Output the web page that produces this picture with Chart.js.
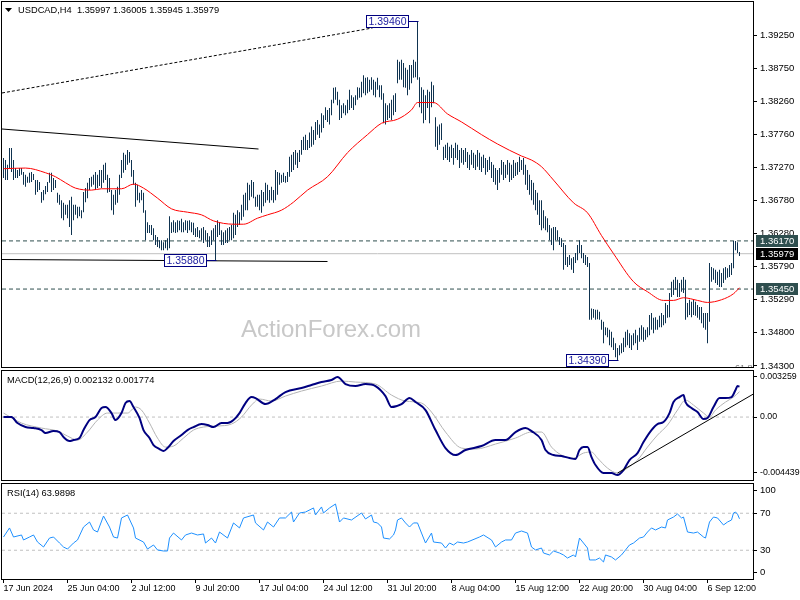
<!DOCTYPE html>
<html><head><meta charset="utf-8"><title>USDCAD H4</title>
<script src="https://cdn.jsdelivr.net/npm/chart.js@4.4.1/dist/chart.umd.min.js"></script>
<style>
html,body{margin:0;padding:0;background:#fff;overflow:hidden}
#wrap{position:relative;width:800px;height:600px;background:#fff}
#wrap canvas{position:absolute;left:0}
</style></head><body>
<div id="wrap">
<canvas id="cMain" width="800" height="369" style="top:0"></canvas>
<canvas id="cMacd" width="800" height="113" style="top:369px"></canvas>
<canvas id="cRsi" width="800" height="118" style="top:482px"></canvas>
</div>
<script>
// ---------- DATA ----------
const symbolTitle = 'USDCAD,H4  1.35997 1.36005 1.35945 1.35979';
const macdTitle = 'MACD(12,26,9) 0.002132 0.001774';
const rsiTitle = 'RSI(14) 63.9898';
const xTickIdx = [0,32,64,96,128,160,192,224,256,288,320,352];
const xTickLabels = ['17 Jun 2024','25 Jun 04:00','2 Jul 12:00','9 Jul 20:00','17 Jul 04:00','24 Jul 12:00','31 Jul 20:00','8 Aug 04:00','15 Aug 12:00','22 Aug 20:00','30 Aug 04:00','6 Sep 12:00'];
const priceTicks = [1.3925,1.3875,1.3826,1.3776,1.3727,1.3678,1.3628,1.3579,1.3529,1.3480,1.3430];
const macdTicks = [0.003259,0,-0.004439];
const macdTickLabels = ['0.003259','0.00','-0.004439'];
const rsiTicks = [100,70,30,0];
const rsiLevels = [70,30];

const highs = [
1.3741,1.3738,1.3731,1.3756,1.3756,1.3738,1.3726,1.3723,1.3726,1.3726,
1.3720,1.3716,1.3713,1.3719,1.3720,1.3717,1.3708,1.3708,1.3705,1.3690,
1.3693,1.3699,1.3705,1.3719,1.3719,1.3711,1.3708,1.3689,1.3686,1.3678,
1.3674,1.3671,1.3671,1.3678,1.3683,1.3671,1.3671,1.3668,1.3668,1.3663,
1.3690,1.3696,1.3704,1.3711,1.3713,1.3716,1.3720,1.3716,1.3723,1.3723,
1.3731,1.3734,1.3716,1.3711,1.3693,1.3686,1.3693,1.3698,1.3716,1.3738,
1.3749,1.3746,1.3753,1.3750,1.3738,1.3723,1.3704,1.3701,1.3689,1.3693,
1.3689,1.3663,1.3645,1.3641,1.3641,1.3636,1.3626,1.3623,1.3618,1.3618,
1.3615,1.3618,1.3621,1.3654,1.3645,1.3648,1.3645,1.3648,1.3647,1.3650,
1.3645,1.3648,1.3647,1.3648,1.3645,1.3644,1.3636,1.3638,1.3633,1.3636,
1.3638,1.3633,1.3629,1.3624,1.3633,1.3636,1.3641,1.3648,1.3645,1.3633,
1.3630,1.3633,1.3636,1.3638,1.3641,1.3659,1.3656,1.3663,1.3660,1.3671,
1.3686,1.3689,1.3704,1.3701,1.3708,1.3705,1.3683,1.3686,1.3686,1.3693,
1.3690,1.3704,1.3701,1.3693,1.3698,1.3693,1.3723,1.3720,1.3719,1.3716,
1.3719,1.3714,1.3720,1.3743,1.3746,1.3750,1.3753,1.3749,1.3753,1.3768,
1.3773,1.3776,1.3768,1.3779,1.3788,1.3783,1.3795,1.3798,1.3791,1.3808,
1.3805,1.3817,1.3813,1.3816,1.3828,1.3846,1.3847,1.3840,1.3828,1.3820,
1.3823,1.3820,1.3828,1.3843,1.3835,1.3832,1.3835,1.3847,1.3846,1.3855,
1.3865,1.3861,1.3862,1.3858,1.3862,1.3858,1.3855,1.3861,1.3850,1.3850,
1.3838,1.3823,1.3820,1.3823,1.3828,1.3835,1.3838,1.3888,1.3885,1.3888,
1.3883,1.3876,1.3873,1.3880,1.3880,1.3888,1.3885,1.3946,1.3862,1.3847,
1.3843,1.3835,1.3843,1.3840,1.3855,1.3850,1.3802,1.3788,1.3791,1.3793,
1.3758,1.3761,1.3764,1.3758,1.3761,1.3756,1.3764,1.3761,1.3753,1.3756,
1.3753,1.3756,1.3750,1.3746,1.3753,1.3749,1.3746,1.3753,1.3749,1.3743,
1.3746,1.3741,1.3738,1.3743,1.3735,1.3731,1.3726,1.3723,1.3726,1.3738,
1.3735,1.3731,1.3738,1.3734,1.3731,1.3738,1.3734,1.3735,1.3743,1.3738,
1.3741,1.3731,1.3723,1.3716,1.3708,1.3704,1.3693,1.3689,1.3678,1.3678,
1.3663,1.3654,1.3651,1.3641,1.3636,1.3638,1.3638,1.3633,1.3623,1.3621,
1.3614,1.3611,1.3593,1.3596,1.3591,1.3593,1.3599,1.3611,1.3618,1.3611,
1.3599,1.3596,1.3593,1.3584,1.3516,1.3515,1.3514,1.3514,1.3511,1.3499,
1.3496,1.3488,1.3487,1.3484,1.3481,1.3472,1.3464,1.3457,1.3461,1.3464,
1.3472,1.3481,1.3484,1.3479,1.3476,1.3479,1.3484,1.3476,1.3487,1.3491,
1.3488,1.3484,1.3488,1.3506,1.3509,1.3502,1.3503,1.3499,1.3505,1.3509,
1.3506,1.3524,1.3521,1.3539,1.3556,1.3559,1.3563,1.3559,1.3554,1.3559,
1.3563,1.3559,1.3524,1.3529,1.3526,1.3529,1.3526,1.3521,1.3518,1.3518,
1.3509,1.3509,1.3509,1.3584,1.3578,1.3576,1.3574,1.3571,1.3574,1.3569,
1.3576,1.3578,1.3576,1.3581,1.3584,1.3617,1.3617,1.3615,1.36005];

const lows = [
1.3711,1.3708,1.3708,1.3726,1.3720,1.3708,1.3711,1.3711,1.3714,1.3716,
1.3701,1.3698,1.3704,1.3704,1.3705,1.3708,1.3686,1.3690,1.3693,1.3674,
1.3678,1.3687,1.3690,1.3704,1.3690,1.3693,1.3696,1.3674,1.3671,1.3651,
1.3648,1.3656,1.3651,1.3638,1.3626,1.3648,1.3656,1.3651,1.3654,1.3651,
1.3660,1.3675,1.3681,1.3693,1.3698,1.3701,1.3693,1.3696,1.3699,1.3696,
1.3704,1.3708,1.3689,1.3690,1.3663,1.3656,1.3671,1.3674,1.3686,1.3711,
1.3719,1.3723,1.3731,1.3734,1.3713,1.3701,1.3668,1.3678,1.3674,1.3678,
1.3659,1.3618,1.3629,1.3629,1.3626,1.3618,1.3611,1.3608,1.3606,1.3603,
1.3603,1.3606,1.3603,1.3606,1.3629,1.3630,1.3629,1.3630,1.3633,1.3630,
1.3630,1.3633,1.3629,1.3633,1.3630,1.3626,1.3623,1.3623,1.3621,1.3618,
1.3614,1.3618,1.3608,1.3608,1.3611,1.3618,1.3588,1.3623,1.3626,1.3611,
1.3611,1.3614,1.3614,1.3618,1.3618,1.3621,1.3626,1.3638,1.3641,1.3648,
1.3653,1.3663,1.3663,1.3678,1.3683,1.3681,1.3668,1.3668,1.3663,1.3659,
1.3669,1.3674,1.3678,1.3674,1.3678,1.3674,1.3678,1.3686,1.3701,1.3704,
1.3705,1.3704,1.3705,1.3713,1.3720,1.3723,1.3731,1.3726,1.3735,1.3746,
1.3753,1.3753,1.3753,1.3756,1.3758,1.3761,1.3768,1.3776,1.3771,1.3779,
1.3786,1.3798,1.3795,1.3791,1.3805,1.3823,1.3828,1.3820,1.3798,1.3801,
1.3808,1.3805,1.3808,1.3813,1.3816,1.3813,1.3820,1.3828,1.3831,1.3832,
1.3838,1.3835,1.3838,1.3840,1.3843,1.3835,1.3832,1.3843,1.3832,1.3828,
1.3793,1.3791,1.3798,1.3801,1.3798,1.3805,1.3810,1.3853,1.3858,1.3858,
1.3847,1.3846,1.3835,1.3843,1.3853,1.3861,1.3862,1.3858,1.3817,1.3808,
1.3793,1.3798,1.3816,1.3793,1.3817,1.3823,1.3758,1.3753,1.3761,1.3768,
1.3738,1.3741,1.3738,1.3735,1.3741,1.3731,1.3741,1.3738,1.3726,1.3734,
1.3731,1.3735,1.3726,1.3723,1.3731,1.3726,1.3723,1.3728,1.3723,1.3720,
1.3726,1.3716,1.3720,1.3723,1.3711,1.3705,1.3701,1.3693,1.3704,1.3716,
1.3708,1.3711,1.3716,1.3705,1.3708,1.3711,1.3714,1.3716,1.3720,1.3723,
1.3716,1.3701,1.3693,1.3686,1.3678,1.3671,1.3663,1.3656,1.3641,1.3633,
1.3636,1.3633,1.3630,1.3618,1.3611,1.3603,1.3618,1.3618,1.3611,1.3608,
1.3574,1.3581,1.3578,1.3581,1.3574,1.3569,1.3584,1.3588,1.3599,1.3591,
1.3584,1.3581,1.3578,1.3499,1.3499,1.3502,1.3499,1.3500,1.3499,1.3484,
1.3464,1.3476,1.3473,1.3461,1.3458,1.3454,1.3443,1.3439,1.3446,1.3449,
1.3451,1.3458,1.3461,1.3457,1.3454,1.3461,1.3464,1.3454,1.3466,1.3469,
1.3466,1.3469,1.3473,1.3476,1.3484,1.3479,1.3484,1.3484,1.3488,1.3488,
1.3491,1.3494,1.3502,1.3503,1.3533,1.3536,1.3544,1.3533,1.3533,1.3541,
1.3539,1.3499,1.3503,1.3506,1.3503,1.3506,1.3505,1.3502,1.3499,1.3494,
1.3487,1.3484,1.3464,1.3496,1.3556,1.3559,1.3554,1.3551,1.3548,1.3548,
1.3554,1.3559,1.3562,1.3563,1.3566,1.3576,1.3603,1.3599,1.35945];

const maIdx = [0,11,21,26,31,36,44,49,59,65,70,77,84,92,99,105,115,120,127,132,139,145,152,162,172,182,189,197,204,207,212,215,222,229,239,247,259,264,269,275,285,292,299,305,315,322,330,335,340,347,352,359,365,368];
const maVal = [1.3725,1.3726,1.3719,1.3713,1.3704,1.3696,1.3693,1.3695,1.3695,1.3702,1.3696,1.3681,1.3665,1.3660,1.3656,1.3647,1.3642,1.3642,1.3651,1.3656,1.3663,1.3675,1.3693,1.3713,1.3749,1.3776,1.3793,1.3799,1.3813,1.3824,1.3824,1.3824,1.3807,1.3795,1.3776,1.3762,1.3744,1.3738,1.3728,1.3708,1.3674,1.3659,1.3625,1.3598,1.3556,1.3541,1.3528,1.3528,1.3532,1.3528,1.3525,1.3529,1.3538,1.3547];

const macdIdx = [0,4,7,11,15,19,21,25,28,30,33,35,38,40,43,46,49,51,54,56,59,61,63,65,68,70,73,75,78,80,82,85,89,92,95,99,102,105,109,112,115,118,121,124,126,131,136,141,149,154,159,164,167,171,176,181,186,191,194,199,203,206,211,216,221,226,231,239,246,251,256,261,264,269,271,275,279,283,286,288,290,292,294,296,300,304,307,310,313,317,320,324,327,330,333,335,338,340,341,344,347,350,352,355,358,361,364,366,367,368];
const macdVal = [0.0000,0.0000,-0.00042,-0.00070,-0.00077,-0.00091,-0.00112,-0.00098,-0.00105,-0.00140,-0.00168,-0.00161,-0.00147,-0.00091,-0.00021,0.0000,0.00063,0.00070,0.00028,-0.00021,0.00028,0.00098,0.00112,0.00070,-0.00006,-0.00091,-0.00147,-0.00196,-0.00224,-0.00238,-0.00217,-0.00168,-0.00126,-0.00091,-0.00070,-0.00049,-0.00056,-0.00070,-0.00042,-0.00042,-0.00021,0.00028,0.00098,0.00140,0.00133,0.00091,0.00126,0.00175,0.00203,0.00224,0.00245,0.00259,0.00280,0.00231,0.00217,0.00231,0.00217,0.00147,0.00070,0.00091,0.00133,0.00105,0.00049,-0.00091,-0.00217,-0.00266,-0.00231,-0.00203,-0.00161,-0.00161,-0.00105,-0.00077,-0.00098,-0.00161,-0.00231,-0.00266,-0.00273,-0.00287,-0.00294,-0.00231,-0.00210,-0.00210,-0.00280,-0.00336,-0.00392,-0.00392,-0.00406,-0.00371,-0.00301,-0.00252,-0.00175,-0.00091,-0.00049,-0.00035,0.00028,0.00105,0.00140,0.00154,0.00105,0.00063,0.00035,-0.00014,-0.00007,0.00070,0.00133,0.00133,0.00140,0.00189,0.00217,0.002132];

const sigIdx = [0,9,19,27,32,37,42,47,52,57,62,66,69,73,77,81,85,90,95,100,107,114,119,124,128,134,141,149,159,169,176,186,194,201,209,214,221,229,236,246,256,264,269,274,279,285,290,294,297,302,307,312,317,322,327,332,337,341,345,350,353,356,361,365,368];
const sigVal = [0.00028,-0.00042,-0.00077,-0.00098,-0.00133,-0.00161,-0.00105,-0.00021,0.00028,0.00028,0.00028,0.00070,0.00049,-0.00042,-0.00147,-0.00210,-0.00203,-0.00147,-0.00091,-0.00070,-0.00063,-0.00049,0.0000,0.00084,0.00126,0.00112,0.00147,0.00182,0.00217,0.00252,0.00245,0.00231,0.00154,0.00112,0.00098,0.00035,-0.00105,-0.00217,-0.00224,-0.00189,-0.00147,-0.00105,-0.00105,-0.00210,-0.00266,-0.00287,-0.00252,-0.00245,-0.00287,-0.00357,-0.00392,-0.00357,-0.00301,-0.00210,-0.00126,-0.00056,0.00049,0.00119,0.00084,0.00028,0.0000,0.00049,0.00105,0.00140,0.001774];

const rsiIdx = [0,3,5,9,10,13,15,17,20,23,25,28,30,32,35,37,40,43,45,47,50,53,55,57,59,62,65,66,70,72,75,77,80,82,83,85,89,91,94,97,100,101,104,106,108,112,115,118,120,125,126,130,132,135,138,141,144,145,148,151,155,156,159,160,163,166,168,170,174,179,181,184,185,187,189,190,193,195,196,197,199,201,203,205,207,209,211,214,215,219,221,223,225,227,230,232,238,240,244,246,249,251,254,256,259,262,264,266,269,270,273,275,278,280,282,285,286,288,290,292,293,296,298,300,301,304,306,309,311,313,315,318,320,322,324,326,329,331,332,335,337,339,340,342,345,347,350,351,353,355,357,360,362,364,365,366,367,368];
const rsiVal = [44.3,54.1,44.3,46.5,41.1,44.3,46.5,38.9,33.5,43.2,44.3,37.8,33.5,31.3,37.8,41.1,55.1,60.5,51.9,49.7,67.0,55.1,44.3,43.2,64.9,68.1,54.1,43.2,38.9,31.3,35.7,30.3,29.2,29.2,43.2,48.6,41.1,46.5,48.6,46.5,47.6,37.8,43.2,37.8,49.7,43.2,59.5,54.1,64.9,68.1,59.5,51.9,60.5,55.1,64.9,64.9,71.3,60.5,70.3,71.3,75.7,68.1,76.8,70.3,75.7,80.0,60.5,64.9,62.7,70.3,63.8,68.1,60.5,59.5,55.1,43.2,42.2,46.5,51.9,62.7,64.9,59.5,55.1,59.5,59.5,48.6,37.8,48.6,38.9,37.8,32.4,37.8,35.7,38.9,37.8,38.9,44.3,46.5,41.1,33.5,38.9,41.1,41.1,48.6,50.8,48.6,33.5,30.3,32.4,27.0,24.9,29.2,27.0,24.9,21.6,24.9,22.7,43.2,37.8,32.4,19.5,19.5,21.6,17.3,24.9,22.7,19.5,24.9,30.3,35.7,37.8,43.2,44.3,49.7,54.1,51.9,55.1,54.1,62.7,65.9,69.2,64.9,65.9,49.7,48.6,49.7,44.3,43.2,60.5,65.9,64.9,57.3,60.5,62.7,70.3,71.3,69.0,63.99];

// horizontal price levels and drawn lines
const dashedLevels = [1.3617, 1.3545];
const lastPrice = 1.35979;
const axisBoxPrices = [1.3617, 1.35979, 1.3545];
const annotIdx = [207, 106, 307];
const annotPrice = [1.3946, 1.3588, 1.3439];
const resistIdx = [-0.75, 127.5];
const resistVal = [1.37844, 1.37545];
const supportIdx = [-0.75, 162];
const supportVal = [1.35892, 1.35862];
const channelIdx = [-0.75, 184.5];
const channelVal = [1.38383, 1.39355];
const macdTrendIdx = [307, 376];
const macdTrendVal = [-0.00392, 0.00170];

// ---------- LAYOUT / STYLE ----------
const FONT = '"Liberation Sans", Arial, sans-serif';
const XMIN = -0.75, XMAX = 374.75;
const PRICE_MIN = 1.34284, PRICE_MAX = 1.39744;
const MACD_MIN = -0.004406, MACD_MAX = 0.003224;
const RSI_MIN = -1.08, RSI_MAX = 101.6;
Chart.defaults.font.family = FONT;
Chart.defaults.font.size = 9.5;
Chart.defaults.color = '#000';
Chart.defaults.animation = false;

const pts = (xs, ys) => xs.map((x, k) => ({x, y: ys[k]}));
const hline = (v, color, dash, order) => ({type:'line', data:[{x:XMIN,y:v},{x:XMAX,y:v}], borderColor:color, borderWidth:1, borderDash:dash, pointRadius:0, order});

const framePlugin = {
  id:'frame',
  afterDraw(chart){
    const {ctx, chartArea:a} = chart;
    ctx.save(); ctx.strokeStyle = '#000'; ctx.lineWidth = 1;
    ctx.strokeRect(a.left-0.5, a.top-0.5, a.right-a.left+1, a.bottom-a.top+1);
    ctx.restore();
  }
};

function xScale(show){
  return {
    type:'linear', min:XMIN, max:XMAX, offset:false, display:show,
    grid:{display:true, drawOnChartArea:false, drawTicks:true, tickLength:4, color:'#000'},
    border:{display:false},
    ticks:{autoSkip:false, maxRotation:0, minRotation:0, align:'start', padding:0, font:{size:9}, color:'#000',
      callback:(v,i)=> xTickLabels[i] !== undefined ? xTickLabels[i] : ''},
    afterBuildTicks:(s)=>{ s.ticks = xTickIdx.map(v=>({value:v})); },
    afterFit:(s)=>{ s.height = show ? 21 : 0; s.paddingLeft = 0; s.paddingRight = 0; s.paddingTop = 0; s.paddingBottom = 0; }
  };
}
function yScale(min, max, tickFn, labelFn, fontSize){
  return {
    type:'linear', position:'right', min, max,
    grid:{display:true, drawOnChartArea:false, drawTicks:true, tickLength:4, color:'#000'},
    border:{display:false},
    ticks:{padding:3, font:{size:fontSize}, color:'#000', callback:labelFn},
    afterBuildTicks:(s)=>{ s.ticks = tickFn(s).map(v=>({value:v})); },
    afterFit:(s)=>{ s.width = 47; s.paddingTop = 0; s.paddingBottom = 0; s.paddingLeft = 0; s.paddingRight = 0; }
  };
}
const baseOpts = (pad) => ({
  responsive:false, devicePixelRatio:1, animation:false, events:[],
  layout:{autoPadding:false, padding:pad},
  plugins:{legend:{display:false}, tooltip:{enabled:false}}
});

// ---------- MAIN CHART ----------
const mainOverlay = {
  id:'mainOverlay',
  beforeDatasetsDraw(chart){
    const {ctx} = chart;
    ctx.save();
    ctx.font = '24px ' + FONT; ctx.fillStyle = '#c8c8c8';
    ctx.textAlign = 'center'; ctx.textBaseline = 'middle';
    ctx.fillText('ActionForex.com', 331, 330);
    ctx.restore();
  },
  afterDatasetsDraw(chart){
    const {ctx, chartArea:a} = chart;
    const xs = chart.scales.x, ys = chart.scales.y;
    ctx.save();
    ctx.beginPath(); ctx.rect(a.left, a.top, a.right-a.left, a.bottom-a.top); ctx.clip();
    ctx.font = '9px ' + FONT; ctx.fillStyle = '#808080'; ctx.textBaseline = 'top';
    ctx.fillText('61.8', 735, 364);
    ctx.restore();
    ctx.save();
    annotIdx.forEach((idx, k) => {
      const bx = Math.round(xs.getPixelForValue(idx)) + 0.5;
      const by = Math.round(ys.getPixelForValue(annotPrice[k])) + 0.5;
      const w = 42, h = 12, right = bx - 10;
      ctx.strokeStyle = '#00007f'; ctx.lineWidth = 1;
      ctx.beginPath(); ctx.moveTo(right, by); ctx.lineTo(bx, by); ctx.stroke();
      ctx.fillStyle = '#fff'; ctx.fillRect(right - w, by - h/2, w, h);
      ctx.strokeRect(right - w, by - h/2, w, h);
      ctx.fillStyle = '#1c1ca0'; ctx.font = '10.5px ' + FONT;
      ctx.textAlign = 'center'; ctx.textBaseline = 'middle';
      ctx.fillText(annotPrice[k].toFixed(5), right - w/2, by + 0.5);
    });
    ctx.restore();
  },
  afterDraw(chart){
    const {ctx} = chart;
    const ys = chart.scales.y;
    const bgs = ['#2f4f4f', '#000000', '#2f4f4f'];
    ctx.save();
    axisBoxPrices.forEach((p, k) => {
      const y = ys.getPixelForValue(p);
      ctx.fillStyle = bgs[k];
      ctx.fillRect(756, Math.round(y) - 6, 42, 12);
      ctx.fillStyle = '#fff'; ctx.font = '9.5px ' + FONT;
      ctx.textAlign = 'left'; ctx.textBaseline = 'middle';
      ctx.fillText(p.toFixed(5), 760, Math.round(y) + 0.5);
    });
    ctx.fillStyle = '#000';
    ctx.beginPath(); ctx.moveTo(5, 8); ctx.lineTo(12, 8); ctx.lineTo(8.5, 12); ctx.closePath(); ctx.fill();
    ctx.font = '9.3px ' + FONT; ctx.textAlign = 'left'; ctx.textBaseline = 'middle';
    ctx.fillText(symbolTitle, 18, 10.5);
    ctx.restore();
  }
};

new Chart(document.getElementById('cMain'), {
  type:'bar',
  data:{datasets:[
    {...hline(lastPrice, '#c0c0c0', [], 6)},
    {...hline(dashedLevels[0], '#2f4f4f', [4,3], 5)},
    {...hline(dashedLevels[1], '#2f4f4f', [4,3], 5)},
    {type:'bar', data: highs.map((h, i) => ({x:i, y:[lows[i], h]})), backgroundColor:'#0f3350', borderWidth:0, barThickness:1, inflateAmount:0, order:4},
    {type:'line', data: pts(maIdx, maVal), borderColor:'#ff0000', borderWidth:1, pointRadius:0, cubicInterpolationMode:'monotone', order:3},
    {type:'line', data: pts(resistIdx, resistVal), borderColor:'#000', borderWidth:1, pointRadius:0, order:2},
    {type:'line', data: pts(supportIdx, supportVal), borderColor:'#000', borderWidth:1, pointRadius:0, order:2},
    {type:'line', data: pts(channelIdx, channelVal), borderColor:'#000', borderWidth:1, borderDash:[3,2], pointRadius:0, order:2}
  ]},
  options:{
    ...baseOpts({left:2, top:2, right:0, bottom:2}),
    scales:{
      x: xScale(false),
      y: yScale(PRICE_MIN, PRICE_MAX, () => priceTicks, (v) => v.toFixed(5), 9.5)
    }
  },
  plugins:[framePlugin, mainOverlay]
});

// ---------- MACD ----------
const macdOverlay = {
  id:'macdOverlay',
  afterDraw(chart){
    const {ctx} = chart;
    ctx.save(); ctx.fillStyle = '#000'; ctx.font = '9.3px ' + FONT;
    ctx.textAlign = 'left'; ctx.textBaseline = 'middle';
    ctx.fillText(macdTitle, 7, 11.5);
    ctx.restore();
  }
};
new Chart(document.getElementById('cMacd'), {
  type:'line',
  data:{datasets:[
    {...hline(0, '#c0c0c0', [3,3], 5)},
    {data: pts(sigIdx, sigVal), borderColor:'#b4b4b4', borderWidth:1, pointRadius:0, cubicInterpolationMode:'monotone', order:4},
    {data: pts(macdIdx, macdVal), borderColor:'#000080', borderWidth:2, pointRadius:0, cubicInterpolationMode:'monotone', order:3},
    {data: pts(macdTrendIdx, macdTrendVal), borderColor:'#000', borderWidth:1, pointRadius:0, order:2}
  ]},
  options:{
    ...baseOpts({left:2, top:2, right:0, bottom:2}),
    scales:{
      x: xScale(false),
      y: yScale(MACD_MIN, MACD_MAX, (s) => {
        const u = (s.max - s.min) / 109;
        return macdTicks.map(v => v > 0 ? v - 6.5*u : (v < 0 ? v + 7.5*u : v));
      }, (v, i) => macdTickLabels[i], 8.8)
    }
  },
  plugins:[framePlugin, macdOverlay]
});

// ---------- RSI ----------
const rsiOverlay = {
  id:'rsiOverlay',
  afterDraw(chart){
    const {ctx} = chart;
    ctx.save(); ctx.fillStyle = '#000'; ctx.font = '9.3px ' + FONT;
    ctx.textAlign = 'left'; ctx.textBaseline = 'middle';
    ctx.fillText(rsiTitle, 7, 11);
    ctx.restore();
  }
};
new Chart(document.getElementById('cRsi'), {
  type:'line',
  data:{datasets:[
    {...hline(rsiLevels[0], '#c0c0c0', [3,3], 5)},
    {...hline(rsiLevels[1], '#c0c0c0', [3,3], 5)},
    {data: pts(rsiIdx, rsiVal), borderColor:'#1e90ff', borderWidth:1, pointRadius:0, order:3}
  ]},
  options:{
    ...baseOpts({left:2, top:2, right:0, bottom:0}),
    scales:{
      x: xScale(true),
      y: yScale(RSI_MIN, RSI_MAX, (s) => {
        const u = (s.max - s.min) / 95;
        return rsiTicks.map(v => v === 100 ? v - 5.2*u : (v === 0 ? v + 5.3*u : v));
      }, (v, i) => String(rsiTicks[i]), 9.5)
    }
  },
  plugins:[framePlugin, rsiOverlay]
});
</script>
</body></html>
